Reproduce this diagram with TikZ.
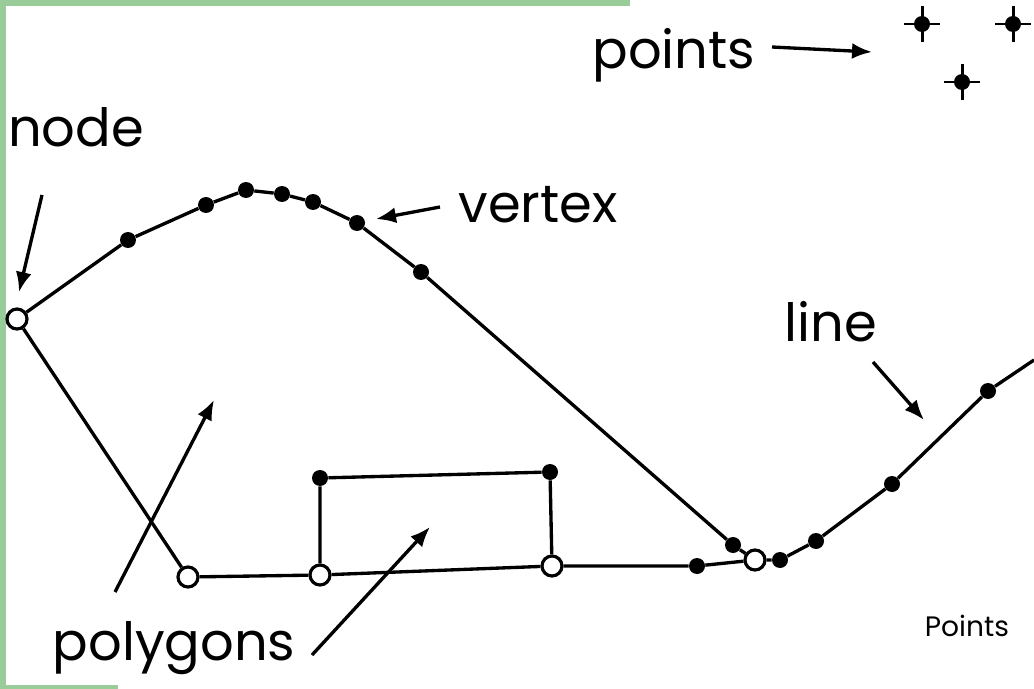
\documentclass[tikz,border=0pt]{standalone}
\usepackage{fontspec}
\setmainfont{Poppins}
\usetikzlibrary{arrows.meta,positioning}
\definecolor{framegreen}{RGB}{153,204,153}

\begin{document}
\begin{tikzpicture}[
  x=0.02cm, y=-0.02cm,
  vtx/.style={circle, fill=black, inner sep=0pt, minimum size=0.32cm},
  nd/.style={circle, draw, fill=white, line width=1.8pt, inner sep=0pt, minimum size=0.4cm},
  edge/.style={line width=1.9pt},
  lbl/.style={font=\fontsize{30}{36}\selectfont, inner sep=0pt},
  arr/.style={-{Latex[length=0.4cm,width=0.32cm]}, line width=1.9pt}
]
  \useasboundingbox (0,0) rectangle (1034,689);
  % green frame
  \fill[framegreen] (0,0) rectangle (630,6);
  \fill[framegreen] (0,0) rectangle (6,689);
  \fill[framegreen] (0,685) rectangle (118,689);

  % nodes (open) and vertices (filled)
  \node[nd] (n1) at (17,319) {};
  \node[nd] (n2) at (188,577) {};
  \node[nd] (n3) at (320,575) {};
  \node[nd] (n4) at (552,566) {};
  \node[nd] (n5) at (755,560) {};

  \node[vtx] (a1) at (128,240) {};
  \node[vtx] (a2) at (206,205) {};
  \node[vtx] (a3) at (246,190) {};
  \node[vtx] (a4) at (282,194) {};
  \node[vtx] (a5) at (313,202) {};
  \node[vtx] (a6) at (357,223) {};
  \node[vtx] (a7) at (421,272) {};
  \node[vtx] (a8) at (733,545) {};
  \node[vtx] (b1) at (697,566) {};
  \node[vtx] (r1) at (320,478) {};
  \node[vtx] (r2) at (550,472) {};
  \node[vtx] (c1) at (780,560) {};
  \node[vtx] (c2) at (816,541) {};
  \node[vtx] (c3) at (892,484) {};
  \node[vtx] (c4) at (988,391) {};
  \coordinate (cend) at (1034,360);

  % lines
  \draw[edge] (n1) -- (a1) -- (a2) -- (a3) -- (a4) -- (a5) -- (a6) -- (a7) -- (a8) -- (n5);
  \draw[edge] (n1) -- (n2) -- (n3) -- (n4) -- (b1) -- (n5);
  \draw[edge] (n3) -- (r1) -- (r2) -- (n4);
  \draw[edge] (n5) -- (c1) -- (c2) -- (c3) -- (c4) -- (cend);

  % points
  \foreach \px/\py [count=\i] in {922/24, 1013/24, 962/82} {
    \node[vtx] (p\i) at (\px,\py) {};
    \draw[line width=1.7pt] ([xshift=-0.36cm]p\i.center) -- ([xshift=0.36cm]p\i.center);
    \draw[line width=1.7pt] ([yshift=-0.36cm]p\i.center) -- ([yshift=0.36cm]p\i.center);
  }

  % labels
  \node[lbl] (lpoints) at (674,55) {points};
  \node[lbl] (lnode) at (76,127) {node};
  \node[lbl] (lvertex) at (538,205) {vertex};
  \node[lbl] (lline) at (831,322) {line};
  \node[lbl] (lpoly) at (174,648) {polygons};
  \node[font=\fontsize{16}{20}\selectfont, inner sep=0pt] (lsmall) at (967,626) {Points};

  % label arrows
  \coordinate (spoints) at (772,47);
  \coordinate (tpoints) at (872,52);
  \coordinate (snode) at (42,195);
  \coordinate (tnode) at (19,292);
  \coordinate (svertex) at (440,207);
  \coordinate (tvertex) at (376,219);
  \coordinate (sline) at (873,362);
  \coordinate (tline) at (924,420);
  \coordinate (spolyA) at (115,592);
  \coordinate (tpolyA) at (214,400);
  \coordinate (spolyB) at (312,655);
  \coordinate (tpolyB) at (430,527);

  \draw[arr] (spoints) -- (tpoints);
  \draw[arr] (snode) -- (tnode);
  \draw[arr] (svertex) -- (tvertex);
  \draw[arr] (sline) -- (tline);
  \draw[arr] (spolyA) -- (tpolyA);
  \draw[arr] (spolyB) -- (tpolyB);
\end{tikzpicture}
\end{document}
